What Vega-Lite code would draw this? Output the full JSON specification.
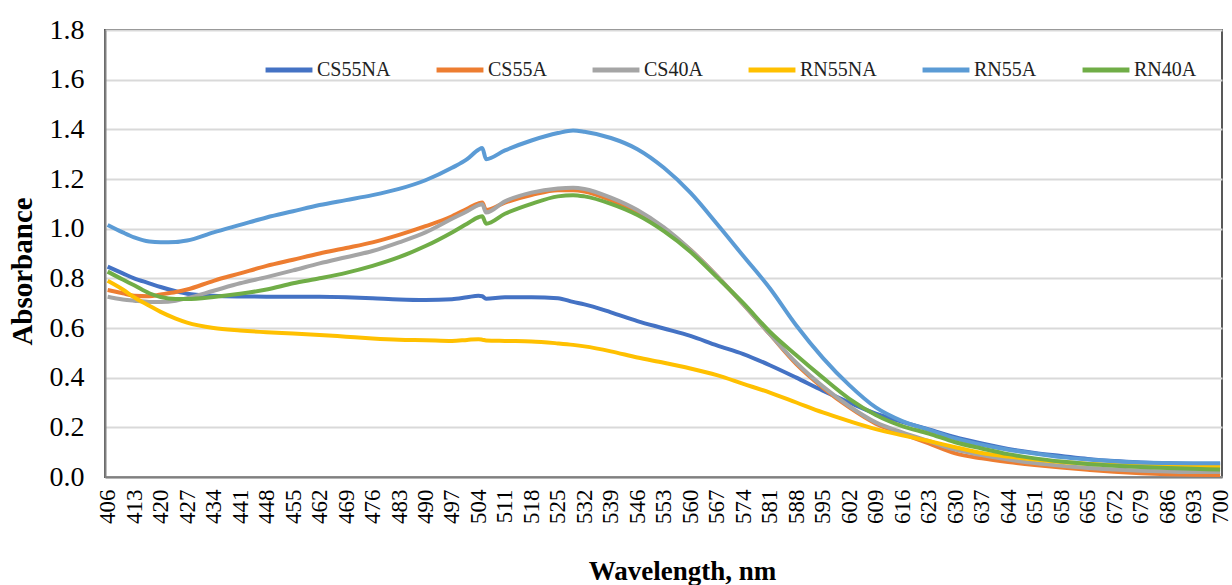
{
  "$schema": "https://vega.github.io/schema/vega-lite/v6.json",
  "width": 1117,
  "height": 447,
  "autosize": {"type": "none"},
  "padding": {"left": 105, "top": 30, "right": 10, "bottom": 108},
  "background": "white",
  "config": {
    "font": "Liberation Serif",
    "view": {"stroke": "#595959", "strokeWidth": 2}
  },
  "data": {
    "values": [
      {"wl": 406, "CS55NA": 0.847, "CS55A": 0.753, "CS40A": 0.726, "RN55NA": 0.79, "RN55A": 1.015, "RN40A": 0.827},
      {"wl": 410, "CS55NA": 0.82, "CS55A": 0.74, "CS40A": 0.715, "RN55NA": 0.755, "RN55A": 0.985, "RN40A": 0.795},
      {"wl": 413, "CS55NA": 0.8, "CS55A": 0.73, "CS40A": 0.71, "RN55NA": 0.724, "RN55A": 0.965, "RN40A": 0.772},
      {"wl": 417, "CS55NA": 0.78, "CS55A": 0.728, "CS40A": 0.705, "RN55NA": 0.69, "RN55A": 0.948, "RN40A": 0.74},
      {"wl": 420, "CS55NA": 0.765, "CS55A": 0.735, "CS40A": 0.705, "RN55NA": 0.665, "RN55A": 0.945, "RN40A": 0.725},
      {"wl": 424, "CS55NA": 0.748, "CS55A": 0.745, "CS40A": 0.71, "RN55NA": 0.638, "RN55A": 0.946, "RN40A": 0.717},
      {"wl": 427, "CS55NA": 0.738, "CS55A": 0.755, "CS40A": 0.72, "RN55NA": 0.622, "RN55A": 0.952, "RN40A": 0.717},
      {"wl": 434, "CS55NA": 0.73, "CS55A": 0.79, "CS40A": 0.75, "RN55NA": 0.6, "RN55A": 0.985, "RN40A": 0.725},
      {"wl": 441, "CS55NA": 0.727, "CS55A": 0.82, "CS40A": 0.78, "RN55NA": 0.59, "RN55A": 1.015, "RN40A": 0.738},
      {"wl": 448, "CS55NA": 0.726, "CS55A": 0.85, "CS40A": 0.805, "RN55NA": 0.583, "RN55A": 1.045, "RN40A": 0.755},
      {"wl": 455, "CS55NA": 0.726, "CS55A": 0.875, "CS40A": 0.832, "RN55NA": 0.578, "RN55A": 1.07, "RN40A": 0.78},
      {"wl": 462, "CS55NA": 0.726, "CS55A": 0.9, "CS40A": 0.86, "RN55NA": 0.572, "RN55A": 1.095, "RN40A": 0.8},
      {"wl": 469, "CS55NA": 0.724, "CS55A": 0.922, "CS40A": 0.885, "RN55NA": 0.565, "RN55A": 1.115, "RN40A": 0.822},
      {"wl": 476, "CS55NA": 0.72, "CS55A": 0.945, "CS40A": 0.91, "RN55NA": 0.558, "RN55A": 1.135, "RN40A": 0.85},
      {"wl": 483, "CS55NA": 0.715, "CS55A": 0.975, "CS40A": 0.945, "RN55NA": 0.553, "RN55A": 1.16, "RN40A": 0.885},
      {"wl": 490, "CS55NA": 0.713, "CS55A": 1.01, "CS40A": 0.985, "RN55NA": 0.551, "RN55A": 1.195, "RN40A": 0.93},
      {"wl": 497, "CS55NA": 0.716, "CS55A": 1.05, "CS40A": 1.04, "RN55NA": 0.548, "RN55A": 1.245, "RN40A": 0.985},
      {"wl": 501, "CS55NA": 0.724, "CS55A": 1.08, "CS40A": 1.07, "RN55NA": 0.552, "RN55A": 1.28, "RN40A": 1.02},
      {"wl": 504, "CS55NA": 0.73, "CS55A": 1.102, "CS40A": 1.095, "RN55NA": 0.555, "RN55A": 1.318, "RN40A": 1.046},
      {"wl": 505, "CS55NA": 0.728, "CS55A": 1.105, "CS40A": 1.098, "RN55NA": 0.553, "RN55A": 1.325, "RN40A": 1.05},
      {"wl": 506, "CS55NA": 0.718, "CS55A": 1.075, "CS40A": 1.065, "RN55NA": 0.55, "RN55A": 1.28, "RN40A": 1.02},
      {"wl": 511, "CS55NA": 0.724, "CS55A": 1.105, "CS40A": 1.11, "RN55NA": 0.548, "RN55A": 1.315, "RN40A": 1.06},
      {"wl": 518, "CS55NA": 0.724, "CS55A": 1.135, "CS40A": 1.145, "RN55NA": 0.546, "RN55A": 1.355, "RN40A": 1.1},
      {"wl": 525, "CS55NA": 0.72, "CS55A": 1.155, "CS40A": 1.162, "RN55NA": 0.538, "RN55A": 1.385, "RN40A": 1.13},
      {"wl": 529, "CS55NA": 0.705, "CS55A": 1.155, "CS40A": 1.165, "RN55NA": 0.532, "RN55A": 1.395, "RN40A": 1.135},
      {"wl": 532, "CS55NA": 0.695, "CS55A": 1.15, "CS40A": 1.16, "RN55NA": 0.526, "RN55A": 1.39, "RN40A": 1.13},
      {"wl": 539, "CS55NA": 0.663, "CS55A": 1.115, "CS40A": 1.125, "RN55NA": 0.506, "RN55A": 1.365, "RN40A": 1.1},
      {"wl": 546, "CS55NA": 0.628, "CS55A": 1.065, "CS40A": 1.075, "RN55NA": 0.481, "RN55A": 1.32, "RN40A": 1.055},
      {"wl": 553, "CS55NA": 0.598, "CS55A": 1.0, "CS40A": 1.005, "RN55NA": 0.46, "RN55A": 1.245, "RN40A": 0.99},
      {"wl": 560, "CS55NA": 0.568, "CS55A": 0.915, "CS40A": 0.915, "RN55NA": 0.437, "RN55A": 1.145, "RN40A": 0.907},
      {"wl": 567, "CS55NA": 0.53, "CS55A": 0.81, "CS40A": 0.81, "RN55NA": 0.41, "RN55A": 1.02, "RN40A": 0.805},
      {"wl": 574, "CS55NA": 0.495, "CS55A": 0.695, "CS40A": 0.695, "RN55NA": 0.375, "RN55A": 0.89, "RN40A": 0.7},
      {"wl": 581, "CS55NA": 0.45, "CS55A": 0.575, "CS40A": 0.575, "RN55NA": 0.34, "RN55A": 0.76, "RN40A": 0.585},
      {"wl": 588, "CS55NA": 0.4, "CS55A": 0.455, "CS40A": 0.46, "RN55NA": 0.3, "RN55A": 0.61, "RN40A": 0.49},
      {"wl": 595, "CS55NA": 0.348, "CS55A": 0.36, "CS40A": 0.365, "RN55NA": 0.26, "RN55A": 0.48, "RN40A": 0.4},
      {"wl": 602, "CS55NA": 0.3, "CS55A": 0.28, "CS40A": 0.285, "RN55NA": 0.225, "RN55A": 0.37, "RN40A": 0.315},
      {"wl": 609, "CS55NA": 0.255, "CS55A": 0.215, "CS40A": 0.22, "RN55NA": 0.193, "RN55A": 0.28, "RN40A": 0.25},
      {"wl": 616, "CS55NA": 0.222, "CS55A": 0.175, "CS40A": 0.18, "RN55NA": 0.168, "RN55A": 0.225, "RN40A": 0.205},
      {"wl": 623, "CS55NA": 0.192, "CS55A": 0.135, "CS40A": 0.145, "RN55NA": 0.145, "RN55A": 0.19, "RN40A": 0.175},
      {"wl": 630, "CS55NA": 0.16, "CS55A": 0.095, "CS40A": 0.11, "RN55NA": 0.12, "RN55A": 0.155, "RN40A": 0.14},
      {"wl": 637, "CS55NA": 0.135, "CS55A": 0.075, "CS40A": 0.088, "RN55NA": 0.097, "RN55A": 0.13, "RN40A": 0.115},
      {"wl": 644, "CS55NA": 0.113, "CS55A": 0.06, "CS40A": 0.07, "RN55NA": 0.082, "RN55A": 0.11, "RN40A": 0.092},
      {"wl": 651, "CS55NA": 0.097, "CS55A": 0.048, "CS40A": 0.056, "RN55NA": 0.07, "RN55A": 0.095, "RN40A": 0.075},
      {"wl": 658, "CS55NA": 0.085, "CS55A": 0.038, "CS40A": 0.045, "RN55NA": 0.06, "RN55A": 0.08, "RN40A": 0.062},
      {"wl": 665, "CS55NA": 0.073, "CS55A": 0.029, "CS40A": 0.036, "RN55NA": 0.053, "RN55A": 0.07, "RN40A": 0.052},
      {"wl": 672, "CS55NA": 0.064, "CS55A": 0.021, "CS40A": 0.03, "RN55NA": 0.048, "RN55A": 0.063, "RN40A": 0.045},
      {"wl": 679, "CS55NA": 0.058, "CS55A": 0.015, "CS40A": 0.025, "RN55NA": 0.045, "RN55A": 0.058, "RN40A": 0.04},
      {"wl": 686, "CS55NA": 0.054, "CS55A": 0.011, "CS40A": 0.022, "RN55NA": 0.043, "RN55A": 0.056, "RN40A": 0.036},
      {"wl": 693, "CS55NA": 0.052, "CS55A": 0.009, "CS40A": 0.02, "RN55NA": 0.042, "RN55A": 0.055, "RN40A": 0.033},
      {"wl": 700, "CS55NA": 0.05, "CS55A": 0.008, "CS40A": 0.02, "RN55NA": 0.042, "RN55A": 0.055, "RN40A": 0.03}
    ]
  },
  "transform": [
    {"fold": ["CS55NA", "CS55A", "CS40A", "RN55NA", "RN55A", "RN40A"], "as": ["series", "absorbance"]}
  ],
  "mark": {"type": "line", "strokeWidth": 4, "interpolate": "monotone"},
  "encoding": {
    "x": {
      "field": "wl",
      "type": "quantitative",
      "scale": {"domain": [405.3, 700.5], "nice": false, "zero": false},
      "axis": {
        "values": [406,413,420,427,434,441,448,455,462,469,476,483,490,497,504,511,518,525,532,539,546,553,560,567,574,581,588,595,602,609,616,623,630,637,644,651,658,665,672,679,686,693,700],
        "labelAngle": -90,
        "labelAlign": "right",
        "labelBaseline": "middle",
        "labelFontSize": 23,
        "labelColor": "#000000",
        "labelPadding": 12,
        "labelFlush": false,
        "labelOverlap": false,
        "ticks": false,
        "grid": false,
        "domainColor": "#808080",
        "domainWidth": 2,
        "title": "Wavelength, nm",
        "titleFontSize": 27,
        "titleFontWeight": "bold",
        "titleColor": "#000000",
        "titleX": 577,
        "titleY": 102,
        "titleBaseline": "alphabetic",
        "titleAlign": "center"
      }
    },
    "y": {
      "field": "absorbance",
      "type": "quantitative",
      "scale": {"domain": [0, 1.8], "nice": false},
      "axis": {
        "values": [0, 0.2, 0.4, 0.6, 0.8, 1.0, 1.2, 1.4, 1.6, 1.8],
        "format": ".1f",
        "labelFontSize": 28,
        "labelColor": "#000000",
        "labelPadding": 21,
        "labelFlush": false,
        "ticks": false,
        "gridColor": "#d9d9d9",
        "gridWidth": 2,
        "domainColor": "#808080",
        "domainWidth": 2,
        "title": "Absorbance",
        "titleFontSize": 29,
        "titleFontWeight": "bold",
        "titleColor": "#000000",
        "titleX": -83,
        "titleY": 241,
        "titleAngle": -90,
        "titleBaseline": "middle",
        "titleAlign": "center"
      }
    },
    "color": {
      "field": "series",
      "type": "nominal",
      "scale": {
        "domain": ["CS55NA", "CS55A", "CS40A", "RN55NA", "RN55A", "RN40A"],
        "range": ["#4472C4", "#ED7D31", "#A5A5A5", "#FFC000", "#5B9BD5", "#70AD47"]
      },
      "legend": {
        "title": null,
        "orient": "none",
        "legendX": 158,
        "legendY": 14,
        "direction": "horizontal",
        "symbolType": "stroke",
        "symbolStrokeWidth": 5,
        "symbolSize": 2200,
        "labelFontSize": 20,
        "labelColor": "#222222",
        "labelOffset": 2,
        "columnPadding": 35
      }
    }
  }
}
